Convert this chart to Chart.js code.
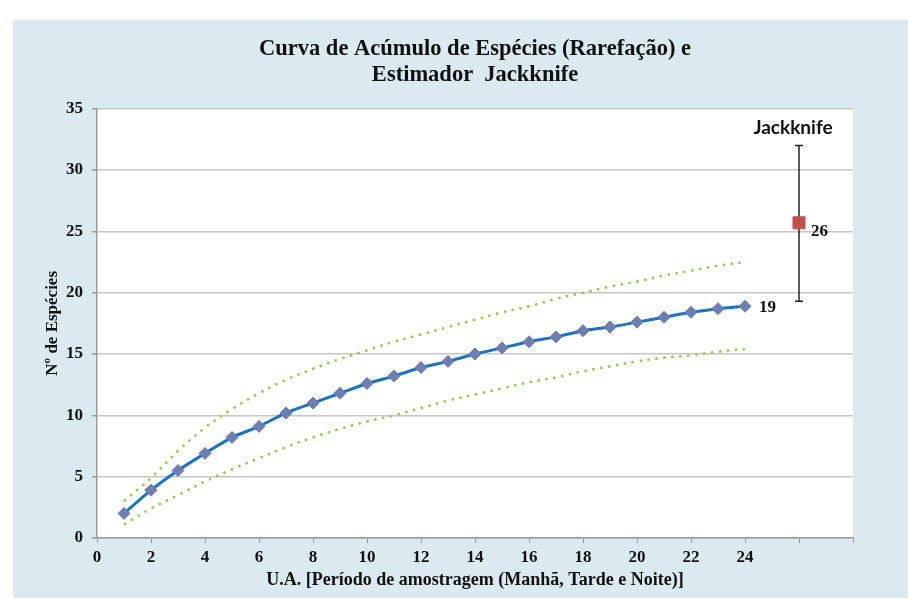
<!DOCTYPE html>
<html>
<head>
<meta charset="utf-8">
<script src="https://cdn.jsdelivr.net/npm/chart.js@4.4.1/dist/chart.umd.min.js"></script>
<style>
  html, body { margin: 0; padding: 0; background: #ffffff; }
  #wrap { width: 908px; height: 599px; }
</style>
</head>
<body>
<div id="wrap"><canvas id="curveChart" width="908" height="599"></canvas></div>
<script>
// Unidades amostrais (1..24) e número acumulado de espécies
const unidades = [1, 2, 3, 4, 5, 6, 7, 8, 9, 10, 11, 12, 13, 14, 15, 16, 17, 18, 19, 20, 21, 22, 23, 24];
const especiesMedia = [2.0, 3.9, 5.5, 6.9, 8.2, 9.1, 10.2, 11.0, 11.8, 12.6, 13.2, 13.9, 14.4, 15.0, 15.5, 16.0, 16.4, 16.9, 17.2, 17.6, 18.0, 18.4, 18.7, 18.9];
const limiteSuperior = [3.0, 4.9, 7.1, 9.0, 10.5, 11.8, 12.9, 13.8, 14.6, 15.3, 16.0, 16.6, 17.2, 17.8, 18.4, 18.9, 19.5, 20.0, 20.5, 20.9, 21.4, 21.8, 22.2, 22.5];
const limiteInferior = [1.1, 2.4, 3.5, 4.6, 5.6, 6.5, 7.4, 8.2, 8.9, 9.5, 10.0, 10.6, 11.2, 11.7, 12.2, 12.7, 13.1, 13.6, 14.0, 14.4, 14.7, 14.9, 15.2, 15.4];

// Estimador Jackknife (média e intervalo)
const jackX = 26;
const jackMedia = 25.7;
const jackMin = 19.3;
const jackMax = 32.0;

const serif = '"Liberation Serif", "Times New Roman", serif';

const toPoints = (xs, ys) => xs.map((x, i) => ({ x: x, y: ys[i] }));

// fundo azul do gráfico e área branca do plot
const backgroundPlugin = {
    id: 'fundo',
    beforeDraw(chart) {
        const { ctx, chartArea } = chart;
        ctx.save();
        ctx.fillStyle = '#ffffff';
        ctx.fillRect(0, 0, chart.width, chart.height);
        ctx.fillStyle = '#dbe9f1';
        ctx.fillRect(13, 20, chart.width - 13, chart.height - 21);
        ctx.fillStyle = '#ffffff';
        ctx.fillRect(chartArea.left, chartArea.top, chartArea.right - chartArea.left, chartArea.bottom - chartArea.top);
        ctx.restore();
    }
};

// rótulos: último valor da curva, valor do Jackknife e nome
const labelsPlugin = {
    id: 'rotulos',
    afterDatasetsDraw(chart) {
        const { ctx } = chart;
        ctx.save();
        ctx.fillStyle = '#111111';
        ctx.textBaseline = 'middle';

        const mainMeta = chart.getDatasetMeta(0);
        const last = mainMeta.data[mainMeta.data.length - 1];
        ctx.font = 'bold 17px ' + serif;
        ctx.textAlign = 'left';
        ctx.fillText(String(Math.round(especiesMedia[especiesMedia.length - 1])), last.x + 14, last.y + 1);

        const jackMeta = chart.getDatasetMeta(3);
        const jp = jackMeta.data[0];
        ctx.fillText(String(Math.round(jackMedia)), jp.x + 12, jp.y + 9);

        const barMeta = chart.getDatasetMeta(4);
        const top = barMeta.data[1];
        ctx.font = 'bold 19px Lato, "Open Sans", sans-serif';
        ctx.textAlign = 'center';
        ctx.fillText('Jackknife', top.x - 6, top.y - 18);
        ctx.restore();
    }
};

const ctx = document.getElementById('curveChart').getContext('2d');
new Chart(ctx, {
    type: 'line',
    data: {
        datasets: [
            {
                label: 'Espécies',
                data: toPoints(unidades, especiesMedia),
                borderColor: '#1f72c0',
                borderWidth: 3,
                tension: 0.2,
                pointStyle: 'rectRot',
                pointRadius: 6,
                pointBackgroundColor: '#6e7db2',
                pointBorderColor: '#6e7db2',
                pointBorderWidth: 1
            },
            {
                label: 'Limite superior',
                data: toPoints(unidades, limiteSuperior),
                borderColor: '#92c85a',
                borderWidth: 2.5,
                borderDash: [2.5, 5.5],
                tension: 0.4,
                pointRadius: 0
            },
            {
                label: 'Limite inferior',
                data: toPoints(unidades, limiteInferior),
                borderColor: '#92c85a',
                borderWidth: 2.5,
                borderDash: [2.5, 5.5],
                tension: 0.4,
                pointRadius: 0
            },
            {
                label: 'Jackknife',
                data: [{ x: jackX, y: jackMedia }],
                showLine: false,
                pointStyle: 'rect',
                pointRadius: 8.5,
                pointBackgroundColor: '#c0504d',
                pointBorderColor: '#c0504d',
                pointBorderWidth: 1
            },
            {
                label: 'Intervalo Jackknife',
                data: [{ x: jackX, y: jackMin }, { x: jackX, y: jackMax }],
                borderColor: '#222222',
                borderWidth: 1.5,
                pointStyle: 'line',
                pointRadius: 4,
                pointBorderColor: '#222222',
                pointBorderWidth: 1.5
            }
        ]
    },
    options: {
        responsive: false,
        animation: false,
        layout: {
            padding: { left: 0, right: 55, top: 0, bottom: 0 }
        },
        scales: {
            x: {
                type: 'linear',
                min: 0,
                max: 28,
                afterFit: (scale) => { scale.height = 61; },
                ticks: {
                    stepSize: 2,
                    autoSkip: false,
                    maxRotation: 0,
                    padding: 4,
                    color: '#111111',
                    font: { family: serif, size: 17, weight: 'bold' },
                    callback: (v) => (v <= 24 ? v : '')
                },
                grid: {
                    drawOnChartArea: false,
                    drawTicks: true,
                    tickLength: 5,
                    color: '#9a9a9a'
                },
                border: { color: '#9a9a9a', width: 1.5 },
                title: {
                    display: true,
                    text: 'U.A. [Período de amostragem (Manhã, Tarde e Noite)]',
                    color: '#111111',
                    font: { family: serif, size: 18, weight: 'bold' },
                    padding: { top: 4, bottom: 8 }
                }
            },
            y: {
                min: 0,
                max: 35,
                afterFit: (scale) => { scale.width = 97; },
                ticks: {
                    stepSize: 5,
                    padding: 9,
                    color: '#111111',
                    font: { family: serif, size: 17, weight: 'bold' }
                },
                grid: {
                    color: '#c6c6c6',
                    lineWidth: 1.5,
                    tickLength: 5,
                    tickColor: '#9a9a9a'
                },
                border: { color: '#9a9a9a', width: 1.5 },
                title: {
                    display: true,
                    text: 'Nº de Espécies',
                    color: '#111111',
                    font: { family: serif, size: 17, weight: 'bold' },
                    padding: { top: 42, bottom: 0 }
                }
            }
        },
        plugins: {
            legend: { display: false },
            tooltip: { enabled: false },
            title: {
                display: true,
                fullSize: false,
                text: ['Curva de Acúmulo de Espécies (Rarefação) e', 'Estimador  Jackknife'],
                color: '#111111',
                font: { family: serif, size: 22.5, weight: 'bold', lineHeight: 1.15 },
                padding: { top: 36, bottom: 21 }
            }
        }
    },
    plugins: [backgroundPlugin, labelsPlugin]
});
</script>
</body>
</html>
